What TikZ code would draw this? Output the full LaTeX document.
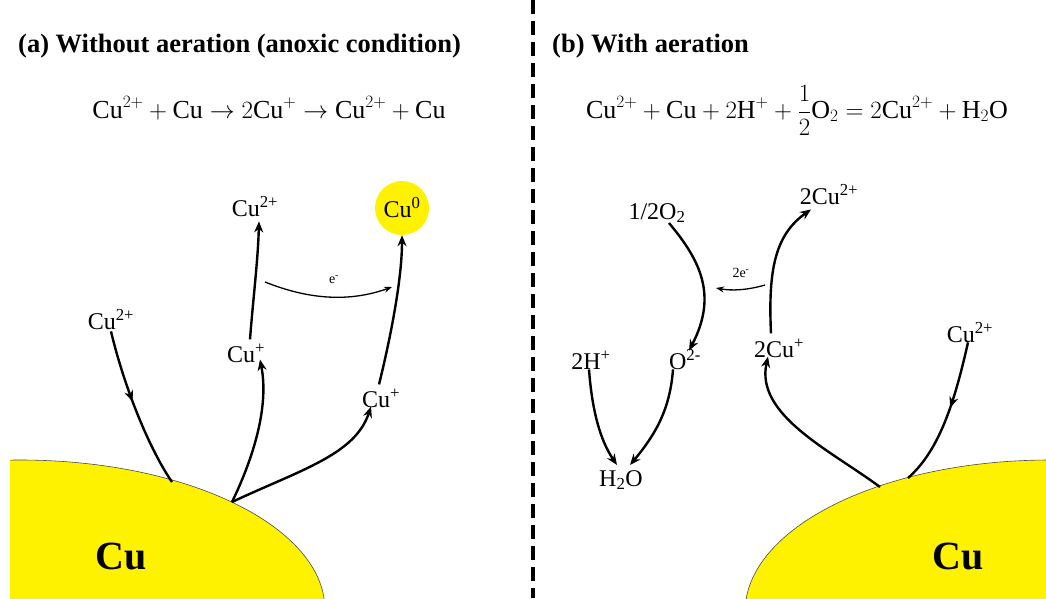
\documentclass[tikz,border=0pt]{standalone}
\usepackage{fontspec}
\setmainfont{Liberation Serif}
\usetikzlibrary{arrows.meta,decorations.markings,calc}
\begin{document}
\begin{tikzpicture}[x=1pt,y=-1pt,
  lbl/.style={font=\fontsize{24}{26}\selectfont, inner sep=1pt},
  small/.style={font=\fontsize{14}{16}\selectfont, inner sep=1pt},
  arr/.style={line width=2.4pt,-{Stealth[length=11pt,width=9pt]}},
  thinarr/.style={line width=1.3pt,-{Stealth[length=8pt,width=6pt]}},
  midarr/.style={line width=2.4pt,postaction={decorate},
    decoration={markings,mark=at position 0.45 with {\arrow{Stealth[length=11pt,width=9pt]}}}},
  metal/.style={fill=yellow,draw=black!70,line width=0.6pt},
  eq/.style={font=\fontsize{26}{28}\selectfont, anchor=base},
  title/.style={font=\fontsize{26.5}{28}\selectfont\bfseries, anchor=base west, inner sep=0pt}
]
\useasboundingbox (0,0) rectangle (1046,598);
% metal bodies
\begin{scope}
  \clip (10,0) rectangle (1046,598);
  \draw[metal] (20,610) ellipse [x radius=305, y radius=150];
\end{scope}
\begin{scope}
  \clip (0,0) rectangle (1046,598);
  \draw[metal] (1050,612) ellipse [x radius=305, y radius=152];
\end{scope}
\node[font=\fontsize{40}{42}\selectfont\bfseries] (cuL) at (121,556) {Cu};
\node[font=\fontsize{40}{42}\selectfont\bfseries] (cuRbig) at (958,556) {Cu};
% divider
\draw[line width=4pt, dash pattern=on 14pt off 7pt] (533,0) -- (533,598);
% titles
\node[title] (ta) at (18,52) {(a) Without aeration (anoxic condition)};
\node[title] (tb) at (552,52) {(b) With aeration};
% equations
\node[eq] (eqa) at (269,118) {$\mathrm{Cu}^{2+}+\mathrm{Cu}\rightarrow 2\mathrm{Cu}^{+}\rightarrow\mathrm{Cu}^{2+}+\mathrm{Cu}$};
\node[eq] (eqb) at (797,118) {$\displaystyle\mathrm{Cu}^{2+}+\mathrm{Cu}+2\mathrm{H}^{+}+\frac{1}{2}\mathrm{O}_2=2\mathrm{Cu}^{2+}+\mathrm{H}_2\mathrm{O}$};
% ----- panel (a)
\coordinate (sA1) at (172,482);
\coordinate (sA2) at (232,502);
\coordinate (eas) at (265,282);
\coordinate (eae) at (392,287);
\node[lbl] (cuA) at (111,320) {Cu\textsuperscript{2+}};
\node[lbl] (cuB) at (255,207) {Cu\textsuperscript{2+}};
\node[lbl] (cuC) at (246,353) {Cu\textsuperscript{+}};
\node[lbl] (cuD) at (381,398) {Cu\textsuperscript{+}};
\node[circle,fill=yellow,minimum size=54pt,inner sep=0pt,font=\fontsize{24}{26}\selectfont] (cu0) at (402,208) {Cu\textsuperscript{0}};
\node[small] (ea) at (334,280) {e\textsuperscript{-}};
\draw[midarr] (cuA.south) .. controls (125,390) and (150,450) .. (sA1);
\draw[arr] (sA2) .. controls (250,465) and (270,410) .. ([xshift=14pt,yshift=4pt]cuC.south);
\draw[arr] (sA2) .. controls (300,470) and (355,455) .. ([xshift=-10pt,yshift=2pt]cuD.south);
\draw[arr] ([xshift=4pt,yshift=3pt]cuC.north) .. controls (253,300) and (258,260) .. ([xshift=4pt,yshift=-3pt]cuB.south);
\draw[thinarr] (eas) .. controls (310,300) and (350,302) .. (eae);
\draw[arr] ([xshift=-2pt,yshift=3pt]cuD.north) .. controls (390,340) and (402,280) .. (cu0.south);
% ----- panel (b)
\coordinate (sB1) at (880,487);
\coordinate (sB2) at (908,478);
\coordinate (e2s) at (765,285);
\coordinate (e2e) at (716,288);
\node[lbl] (o2) at (657,213) {1/2O\textsubscript{2}};
\node[lbl] (cu2b) at (829,195) {2Cu\textsuperscript{2+}};
\node[small] (eb) at (741,273) {2e\textsuperscript{-}};
\node[lbl] (hp) at (591,360) {2H\textsuperscript{+}};
\node[lbl] (om) at (685,360) {O\textsuperscript{2-}};
\node[lbl] (cup2) at (779,348) {2Cu\textsuperscript{+}};
\node[lbl] (cuR) at (970,333) {Cu\textsuperscript{2+}};
\node[lbl] (h2o) at (621,480) {H\textsubscript{2}O};
\draw[arr] ([xshift=12pt,yshift=1pt]o2.south) .. controls (700,260) and (718,295) .. ([xshift=4pt,yshift=-2pt]om.north);
\draw[thinarr] (e2s) .. controls (748,290) and (732,291) .. (e2e);
\draw[arr] ([xshift=-8pt,yshift=4pt]cup2.north) .. controls (768,270) and (775,235) .. ([xshift=-18pt,yshift=-3pt]cu2b.south);
\draw[arr] ([xshift=-2pt,yshift=1pt]hp.south) .. controls (592,410) and (600,440) .. ([xshift=-4pt,yshift=4pt]h2o.north);
\draw[arr] ([xshift=-12pt,yshift=2pt]om.south) .. controls (670,410) and (655,435) .. ([xshift=9pt,yshift=4pt]h2o.north);
\draw[arr] (sB1) .. controls (830,450) and (755,415) .. ([xshift=-11pt,yshift=2pt]cup2.south);
\draw[midarr] ([xshift=-2pt,yshift=2pt]cuR.south) .. controls (955,400) and (940,450) .. (sB2);
\end{tikzpicture}
\end{document}
